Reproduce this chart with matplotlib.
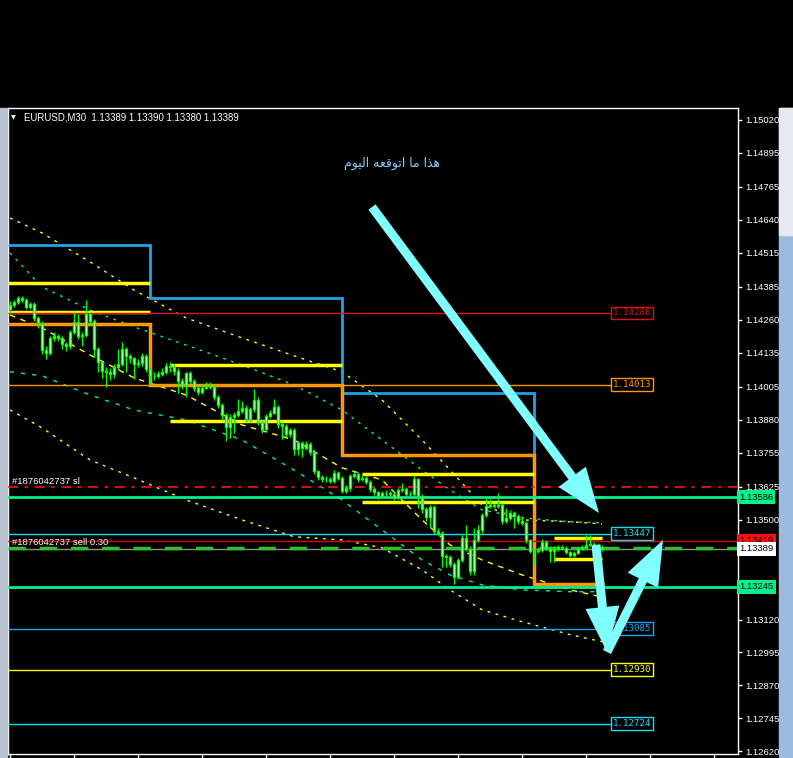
import matplotlib
matplotlib.use("Agg")
import matplotlib.pyplot as plt
from matplotlib.patches import Rectangle, FancyArrow
import numpy as np

# ---------------- data (EURUSD, M30) ----------------
FIRST_OPEN = 1.14300
CLOSE = [1.14316, 1.14328, 1.14343, 1.14335, 1.14309, 1.14320, 1.14267, 1.14248, 1.14145, 1.14134,
         1.14191, 1.14199, 1.14191, 1.14168, 1.14161, 1.14214, 1.14252, 1.14199, 1.14202, 1.14282,
         1.14256, 1.14149, 1.14100, 1.14066, 1.14062, 1.14054, 1.14081, 1.14092, 1.14149, 1.14123,
         1.14115, 1.14092, 1.14096, 1.14123, 1.14073, 1.14047, 1.14047, 1.14054, 1.14062, 1.14085,
         1.14081, 1.14066, 1.14028, 1.14009, 1.14058, 1.14028, 1.14001, 1.13986, 1.14001, 1.14009,
         1.14005, 1.13967, 1.13936, 1.13898, 1.13853, 1.13891, 1.13898, 1.13913, 1.13925, 1.13883,
         1.13921, 1.13955, 1.13872, 1.13845, 1.13894, 1.13906, 1.13929, 1.13864, 1.13856, 1.13826,
         1.13841, 1.13769, 1.13792, 1.13773, 1.13788, 1.13758, 1.13685, 1.13663, 1.13655, 1.13655,
         1.13647, 1.13678, 1.13659, 1.13609, 1.13621, 1.13666, 1.13674, 1.13655, 1.13659, 1.13644,
         1.13617, 1.13606, 1.13590, 1.13602, 1.13602, 1.13598, 1.13583, 1.13613, 1.13617, 1.13598,
         1.13598, 1.13655, 1.13590, 1.13541, 1.13511, 1.13549, 1.13457, 1.13450, 1.13362, 1.13358,
         1.13332, 1.13282, 1.13347, 1.13431, 1.13389, 1.13305, 1.13423, 1.13461, 1.13518, 1.13552,
         1.13556, 1.13552, 1.13556, 1.13495, 1.13507, 1.13526, 1.13514, 1.13495, 1.13488, 1.13423,
         1.13381, 1.13381, 1.13385, 1.13416, 1.13393, 1.13381, 1.13389, 1.13397, 1.13393, 1.13378,
         1.13366, 1.13374, 1.13389, 1.13397, 1.13404, 1.13408, 1.13404, 1.13397, 1.13389]
HIGH = [1.14330, 1.14335, 1.14352, 1.14350, 1.14342, 1.14328, 1.14326, 1.14275, 1.14255, 1.14160,
        1.14200, 1.14215, 1.14206, 1.14198, 1.14176, 1.14222, 1.14290, 1.14280, 1.14215, 1.14335,
        1.14290, 1.14262, 1.14155, 1.14105, 1.14080, 1.14075, 1.14090, 1.14150, 1.14175, 1.14155,
        1.14130, 1.14120, 1.14110, 1.14135, 1.14130, 1.14080, 1.14060, 1.14065, 1.14075, 1.14095,
        1.14100, 1.14090, 1.14075, 1.14040, 1.14062, 1.14065, 1.14035, 1.14010, 1.14012, 1.14022,
        1.14025, 1.14012, 1.13975, 1.13945, 1.13905, 1.13900, 1.13910, 1.13960, 1.13950, 1.13935,
        1.13930, 1.13995, 1.13965, 1.13880, 1.13900, 1.13915, 1.13960, 1.13935, 1.13870, 1.13862,
        1.13850, 1.13848, 1.13800, 1.13800, 1.13798, 1.13795, 1.13765, 1.13690, 1.13670, 1.13665,
        1.13662, 1.13690, 1.13685, 1.13665, 1.13630, 1.13675, 1.13685, 1.13680, 1.13668, 1.13665,
        1.13650, 1.13625, 1.13610, 1.13610, 1.13612, 1.13610, 1.13605, 1.13620, 1.13640, 1.13625,
        1.13608, 1.13665, 1.13660, 1.13598, 1.13548, 1.13555, 1.13555, 1.13468, 1.13455, 1.13368,
        1.13365, 1.13340, 1.13355, 1.13440, 1.13480, 1.13400, 1.13470, 1.13480, 1.13525, 1.13585,
        1.13580, 1.13565, 1.13600, 1.13562, 1.13545, 1.13535, 1.13532, 1.13520, 1.13515, 1.13495,
        1.13428, 1.13392, 1.13395, 1.13425, 1.13422, 1.13400, 1.13398, 1.13405, 1.13402, 1.13400,
        1.13382, 1.13382, 1.13396, 1.13404, 1.13440, 1.13440, 1.13415, 1.13410, 1.13402]
LOW = [1.14290, 1.14308, 1.14320, 1.14326, 1.14300, 1.14300, 1.14255, 1.14230, 1.14130, 1.14110,
       1.14125, 1.14180, 1.14180, 1.14150, 1.14140, 1.14150, 1.14205, 1.14185, 1.14160, 1.14195,
       1.14245, 1.14120, 1.14060, 1.14040, 1.14005, 1.14030, 1.14040, 1.14070, 1.14085, 1.14060,
       1.14095, 1.14035, 1.14080, 1.14085, 1.14060, 1.14010, 1.14030, 1.14040, 1.14045, 1.14055,
       1.14060, 1.14050, 1.13980, 1.13995, 1.13965, 1.14015, 1.13990, 1.13975, 1.13978, 1.13995,
       1.13995, 1.13955, 1.13925, 1.13880, 1.13800, 1.13810, 1.13830, 1.13890, 1.13905, 1.13870,
       1.13870, 1.13910, 1.13860, 1.13830, 1.13838, 1.13885, 1.13900, 1.13850, 1.13805, 1.13815,
       1.13815, 1.13745, 1.13745, 1.13740, 1.13765, 1.13745, 1.13675, 1.13650, 1.13645, 1.13645,
       1.13638, 1.13640, 1.13650, 1.13600, 1.13600, 1.13610, 1.13660, 1.13645, 1.13648, 1.13635,
       1.13605, 1.13595, 1.13580, 1.13585, 1.13590, 1.13590, 1.13575, 1.13578, 1.13605, 1.13590,
       1.13590, 1.13590, 1.13545, 1.13525, 1.13495, 1.13470, 1.13445, 1.13440, 1.13320, 1.13320,
       1.13320, 1.13255, 1.13275, 1.13340, 1.13380, 1.13290, 1.13290, 1.13415, 1.13450, 1.13510,
       1.13545, 1.13545, 1.13545, 1.13485, 1.13488, 1.13498, 1.13470, 1.13485, 1.13480, 1.13410,
       1.13372, 1.13330, 1.13375, 1.13378, 1.13385, 1.13340, 1.13340, 1.13382, 1.13385, 1.13370,
       1.13358, 1.13358, 1.13368, 1.13385, 1.13392, 1.13398, 1.13398, 1.13390, 1.13380]

# envelope / band indicator lines sampled at these bar numbers
BAND_BARS = [0, 8, 20, 31, 44, 58, 71, 83, 93, 103, 110, 118, 128, 140, 148]
UPPER_YELLOW = [1.14647, 1.14590, 1.14480, 1.14373, 1.14267, 1.14191, 1.14123, 1.14062, 1.13955,
                1.13803, 1.13689, 1.13556, 1.13499, 1.13492, 1.13484]
UPPER_GREEN = [1.14514, 1.14385, 1.14297, 1.14233, 1.14164, 1.14088, 1.14012, 1.13917, 1.13803,
               1.13689, 1.13613, 1.13537, 1.13507, 1.13492, 1.13488]
MID_YELLOW = [1.14278, 1.14229, 1.14126, 1.14039, 1.13974, 1.13860, 1.13803, 1.13697, 1.13651,
              1.13499, 1.13404, 1.13347, 1.13290, 1.13233, 1.13206]
LOWER_GREEN = [1.14062, 1.14047, 1.13974, 1.13917, 1.13879, 1.13803, 1.13689, 1.13575, 1.13461,
               1.13347, 1.13290, 1.13252, 1.13233, 1.13226, 1.13226]
LOWER_YELLOW = [1.13917, 1.13849, 1.13727, 1.13659, 1.13575, 1.13499, 1.13435, 1.13423, 1.13393,
                1.13309, 1.13233, 1.13157, 1.13112, 1.13063, 1.13036]

# daily levels (one value per trading day)
DAY_EDGES = [-0.5, 35, 83, 131, 148.5]
BLUE_STEP = [1.14544, 1.14343, 1.13982, 1.13586]
ORANGE_STEP = [1.14244, 1.14012, 1.13746, 1.13256]
YELLOW_START = [-0.5, 40, 88, 136]
YELLOW_END = [35, 83, 131, 148]
YELLOW_HI = [1.14400, 1.14088, 1.13674, 1.13431]
YELLOW_LO = [1.14290, 1.13875, 1.13568, 1.13351]

# labelled horizontal levels
LEVELS = [1.14286, 1.14013, 1.13447, 1.13085, 1.12930, 1.12724]
LEVEL_COLORS = ["#e01010", "#ff9900", "#10e0f0", "#10a8ff", "#ffff00", "#10e0f0"]
SL_LEVEL = 1.13625
TP_HI, TP_LO = 1.13586, 1.13245
ASK, BID = 1.13419, 1.13389

YTICKS = [1.15020, 1.14895, 1.14765, 1.14640, 1.14515, 1.14385, 1.14260, 1.14135, 1.14005,
          1.13880, 1.13755, 1.13625, 1.13500, 1.13120, 1.12995, 1.12870, 1.12745, 1.12620]

TITLE = "EURUSD,M30  1.13389 1.13390 1.13380 1.13389"
# "هذا ما اتوقعه اليوم" written in shaped, visual order (matplotlib has no Arabic shaping)
NOTE = "\uFEE1\uFEEE\uFEF4\uFEDF\uFE8D \uFEEA\uFECC\uFED7\uFEEE\uFE97\uFE8D \uFE8E\uFEE3 \uFE8D\uFEAC\uFEEB"

LIME = "#00ff00"
SPRING = "#00f08c"
ARROW = "#80ffff"
TICKFONT = dict(family=["Liberation Sans", "DejaVu Sans"], size=6.8)

# ---------------- figure ----------------
W, H = 793, 758
fig = plt.figure(figsize=(W / 100, H / 100), dpi=100, facecolor="black")
ax = fig.add_axes([8 / W, 4 / H, 730 / W, 646 / H], facecolor="black")
ax.set_xlim(-0.5, 182)
ax.set_ylim(1.12609, 1.15065)

close = np.array(CLOSE)
opn = np.r_[FIRST_OPEN, close[:-1]]
x = np.arange(len(close))

# indicator bands
ax.plot(BAND_BARS, UPPER_YELLOW, color="#ffff00", lw=1, ls=(0, (2, 4)), zorder=2)
ax.plot(BAND_BARS, LOWER_YELLOW, color="#ffff00", lw=1, ls=(0, (2, 4)), zorder=2)
ax.plot(BAND_BARS, UPPER_GREEN, color=SPRING, lw=1, ls=(0, (2, 4)), zorder=2)
ax.plot(BAND_BARS, LOWER_GREEN, color=SPRING, lw=1, ls=(0, (3, 5)), zorder=2)
ax.plot(BAND_BARS, MID_YELLOW, color="#ffff00", lw=1, ls=(0, (4, 4)), zorder=2)

# daily step lines
ax.stairs(BLUE_STEP, DAY_EDGES, baseline=None, color="#1fa3e8", lw=2, zorder=3)
ax.stairs(ORANGE_STEP, DAY_EDGES, baseline=None, color="#ff9900", lw=2.5, zorder=3)
ax.hlines(YELLOW_HI, YELLOW_START, YELLOW_END, color="#ffff00", lw=2.5, zorder=3)
ax.hlines(YELLOW_LO, YELLOW_START, YELLOW_END, color="#ffff00", lw=2.5, zorder=3)

# horizontal trade lines
ax.axhline(SL_LEVEL, color="#ff1010", lw=1.2, ls=(0, (6, 4, 2, 4)), zorder=4)
ax.axhline(TP_HI, color=SPRING, lw=2, zorder=4)
ax.axhline(TP_LO, color=SPRING, lw=2, zorder=4)
ax.axhline(ASK, color="#e00000", lw=1, zorder=4)
ax.axhline(BID, color="#909090", lw=1, zorder=4)
ax.axhline(BID + 0.00002, color="#30c030", lw=2.5, ls=(0, (5, 4)), zorder=4)

box_left, box_mid = 150.5, 155.6
for lv, c in zip(LEVELS, LEVEL_COLORS):
    ax.hlines(lv, -0.5, box_left, color=c, lw=1, zorder=4)
    ax.text(box_mid, lv, f"{lv:.5f}", ha="center", va="center", color=c, zorder=6,
            family="DejaVu Sans Mono", fontsize=6.6,
            bbox=dict(boxstyle="square,pad=0.2", fc="black", ec=c, lw=1))

# candles
ax.vlines(x, LOW, HIGH, color=LIME, lw=1, zorder=5)
ax.bar(x, close - opn, bottom=opn, width=0.55, color="white", edgecolor=LIME, lw=1, zorder=5)

ax.text(0.5, SL_LEVEL + 0.00003, "#1876042737 sl", color="white", fontsize=6.8,
        family=["Liberation Sans", "DejaVu Sans"], va="bottom", zorder=6)
ax.text(0.5, BID + 0.00006, "#1876042737 sell 0.30", color="white", fontsize=6.8,
        family=["Liberation Sans", "DejaVu Sans"], va="bottom", zorder=6)

# axes styling
for s in ax.spines.values():
    s.set_color("white")
    s.set_linewidth(1)
ax.yaxis.tick_right()
ax.set_yticks(YTICKS)
ax.set_yticklabels([f"{v:.5f}" for v in YTICKS], **TICKFONT)
ax.tick_params(axis="y", colors="white", length=3, width=1, pad=2)
ax.set_xticks(np.arange(0, 182, 16))
ax.set_xticklabels([])
ax.tick_params(axis="x", colors="white", length=5, width=1)

# price tags on the scale
for v, fc in [(TP_HI, SPRING), (ASK, "#ff1010"), (BID, "white"), (TP_LO, SPRING)]:
    ax.text(1.0 + 1 / 730, v, f"{v:.5f}", transform=ax.get_yaxis_transform(), ha="left",
            va="center", color="black", clip_on=False, zorder=7, **TICKFONT,
            bbox=dict(boxstyle="square,pad=0.25", fc=fc, ec="none"))

# ---------------- screenshot overlay (pixel coordinates) ----------------
ov = fig.add_axes([0, 0, 1, 1], facecolor="none")
ov.set_xlim(0, W)
ov.set_ylim(H, 0)
ov.axis("off")
ov.add_patch(Rectangle((0, 108), 7, 650, color="#b9c3cf"))
ov.add_patch(Rectangle((779, 108), 14, 650, color="#9dbbe0"))
ov.add_patch(Rectangle((779, 108), 14, 127, color="#e6eaee"))

ov.text(13, 118, "\u25BC", color="white", fontsize=4.5, ha="center", va="center")
ov.text(24, 118, TITLE, color="white", fontsize=6.9, va="center",
        family=["Liberation Sans", "DejaVu Sans"])
ov.text(392, 163, NOTE, color="#8cc8ff", fontsize=9, ha="center", va="center",
        family="DejaVu Sans")

for (x0, y0, x1, y1) in [(372, 207, 599, 513), (596, 545, 607, 652), (607, 652, 663, 540)]:
    ov.add_patch(FancyArrow(x0, y0, x1 - x0, y1 - y0, width=9, head_width=34, head_length=45,
                            length_includes_head=True, color=ARROW, lw=0))

fig.savefig("out.png", dpi=100, facecolor="black")
